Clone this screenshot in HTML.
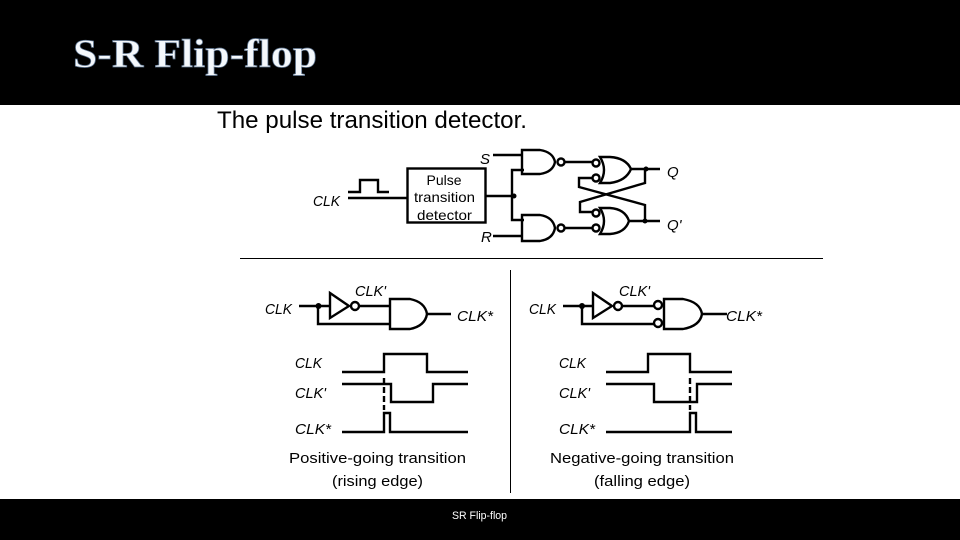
<!DOCTYPE html>
<html><head><meta charset="utf-8"><style>
html,body{margin:0;padding:0;background:#fff;width:960px;height:540px;overflow:hidden}
svg{display:block}
text{font-family:"Liberation Sans",sans-serif;fill:#000}
.i{font-style:italic;font-size:15px}
.c{font-size:15px}
</style></head><body>
<svg width="960" height="540" viewBox="0 0 960 540" xmlns="http://www.w3.org/2000/svg">
<rect width="960" height="540" fill="#fff"/>
<rect width="960" height="105" fill="#000"/>
<rect y="499" width="960" height="41" fill="#000"/>
<text x="73" y="67" textLength="244" lengthAdjust="spacingAndGlyphs" style="font-family:'Liberation Serif',serif;font-weight:bold;font-size:40px;fill:#f4f8fc;stroke:#5f7590;stroke-width:.7px">S-R Flip-flop</text>
<text x="217" y="128" textLength="310" lengthAdjust="spacingAndGlyphs" style="font-size:24px">The pulse transition detector.</text>
<text x="452" y="519" textLength="55" lengthAdjust="spacingAndGlyphs" style="font-size:11px;fill:#fff">SR Flip-flop</text>

<g fill="none" stroke="#000" stroke-width="2.4">
<path d="M348 192H360V180H378V192H389"/>
<path d="M348 198H407"/>
<rect x="407.500" y="168.500" width="78" height="54"/>
<path d="M486 196H514"/>
<path d="M524 170H512V220H524"/>
<path d="M493 155H522M493 236H522"/>
<path d="M522 150H540Q553 152 555 162Q553 172 540 174H522Z"/>
<path d="M522 215H540Q553 217 555 228Q553 239 540 241H522Z"/>
<circle cx="561" cy="162" r="3.500"/>
<circle cx="561" cy="228" r="3.500"/>
<path d="M565 162H592M565 228H592"/>
<circle cx="596" cy="163" r="3.500"/>
<circle cx="596" cy="178" r="3.500"/>
<circle cx="596" cy="213" r="3.500"/>
<circle cx="596" cy="228" r="3.500"/>
<path d="M600 157H610Q626 158 631 169Q626 181 610 183H600Q608 170 600 157Z"/>
<path d="M600 208H610Q625 209 629 221Q625 233 610 234H600Q608 221 600 208Z"/>
<path d="M631 169H660M629 221H660"/>
<path d="M592 178H579V187L645 205V221"/>
<path d="M645 169V183L580 202V212H592"/>
<path stroke-width="1" d="M240 258.500H823M510.500 270V493"/>

<path d="M299 306H330"/>
<path d="M330 293L349 306L330 318Z"/>
<circle cx="355" cy="306" r="4"/>
<path d="M359 306H390"/>
<path d="M318 306V324H390"/>
<path d="M390 299H410Q425 302 427 314Q425 326 410 329H390Z"/>
<path d="M427 314H451"/>

<path d="M563 306H593"/>
<path d="M593 293L612 306L593 318Z"/>
<circle cx="618" cy="306" r="4"/>
<path d="M622 306H654"/>
<path d="M582 306V324H654"/>
<circle cx="658" cy="305" r="4"/>
<circle cx="658" cy="323" r="4"/>
<path d="M664 299H683Q700 302 702 314Q700 326 683 329H664V299Z"/>
<path d="M702 314H727"/>

<path d="M342 372H384V354H427V372H468"/>
<path d="M342 384H391V402H433V384H468"/>
<path d="M342 432H384V413H390V432H468"/>
<path d="M384 378V410" stroke-dasharray="6 3"/>

<path d="M606 372H648V354H690V372H732"/>
<path d="M606 384H654V402H697V384H732"/>
<path d="M606 432H690V413H696V432H732"/>
<path d="M690 378V410" stroke-dasharray="6 3"/>
</g>
<g fill="#000">
<circle cx="514" cy="196" r="2.500"/>
<circle cx="646" cy="169" r="2.500"/>
<circle cx="645" cy="221" r="2.500"/>
<circle cx="318.500" cy="306" r="3"/>
<circle cx="582" cy="306" r="3"/>
</g>

<text x="444" y="185" text-anchor="middle" class="c" textLength="35" lengthAdjust="spacingAndGlyphs" style="font-size:14px">Pulse</text>
<text x="414" y="202" class="c" textLength="61" lengthAdjust="spacingAndGlyphs" style="font-size:14px">transition</text>
<text x="417" y="220" class="c" textLength="55" lengthAdjust="spacingAndGlyphs" style="font-size:14px">detector</text>
<text x="480" y="164" class="i">S</text>
<text x="481" y="242" class="i">R</text>
<text x="667" y="177" class="i">Q</text>
<text x="667" y="230" class="i">Q'</text>
<text x="313" y="206" class="i" textLength="27" lengthAdjust="spacingAndGlyphs">CLK</text>
<text x="265" y="314" class="i" textLength="27" lengthAdjust="spacingAndGlyphs">CLK</text>
<text x="355" y="296" class="i" textLength="31" lengthAdjust="spacingAndGlyphs">CLK'</text>
<text x="457" y="321" class="i" textLength="36" lengthAdjust="spacingAndGlyphs">CLK*</text>
<text x="529" y="314" class="i" textLength="27" lengthAdjust="spacingAndGlyphs">CLK</text>
<text x="619" y="296" class="i" textLength="31" lengthAdjust="spacingAndGlyphs">CLK'</text>
<text x="726" y="321" class="i" textLength="36" lengthAdjust="spacingAndGlyphs">CLK*</text>

<text x="295" y="368" class="i" textLength="27" lengthAdjust="spacingAndGlyphs">CLK</text>
<text x="295" y="398" class="i" textLength="31" lengthAdjust="spacingAndGlyphs">CLK'</text>
<text x="295" y="434" class="i" textLength="36" lengthAdjust="spacingAndGlyphs">CLK*</text>
<text x="559" y="368" class="i" textLength="27" lengthAdjust="spacingAndGlyphs">CLK</text>
<text x="559" y="398" class="i" textLength="31" lengthAdjust="spacingAndGlyphs">CLK'</text>
<text x="559" y="434" class="i" textLength="36" lengthAdjust="spacingAndGlyphs">CLK*</text>

<text x="289" y="463" class="c" textLength="177" lengthAdjust="spacingAndGlyphs">Positive-going transition</text>
<text x="332" y="486" class="c" textLength="91" lengthAdjust="spacingAndGlyphs">(rising edge)</text>
<text x="550" y="463" class="c" textLength="184" lengthAdjust="spacingAndGlyphs">Negative-going transition</text>
<text x="594" y="486" class="c" textLength="96" lengthAdjust="spacingAndGlyphs">(falling edge)</text>
</svg>
</body></html>
